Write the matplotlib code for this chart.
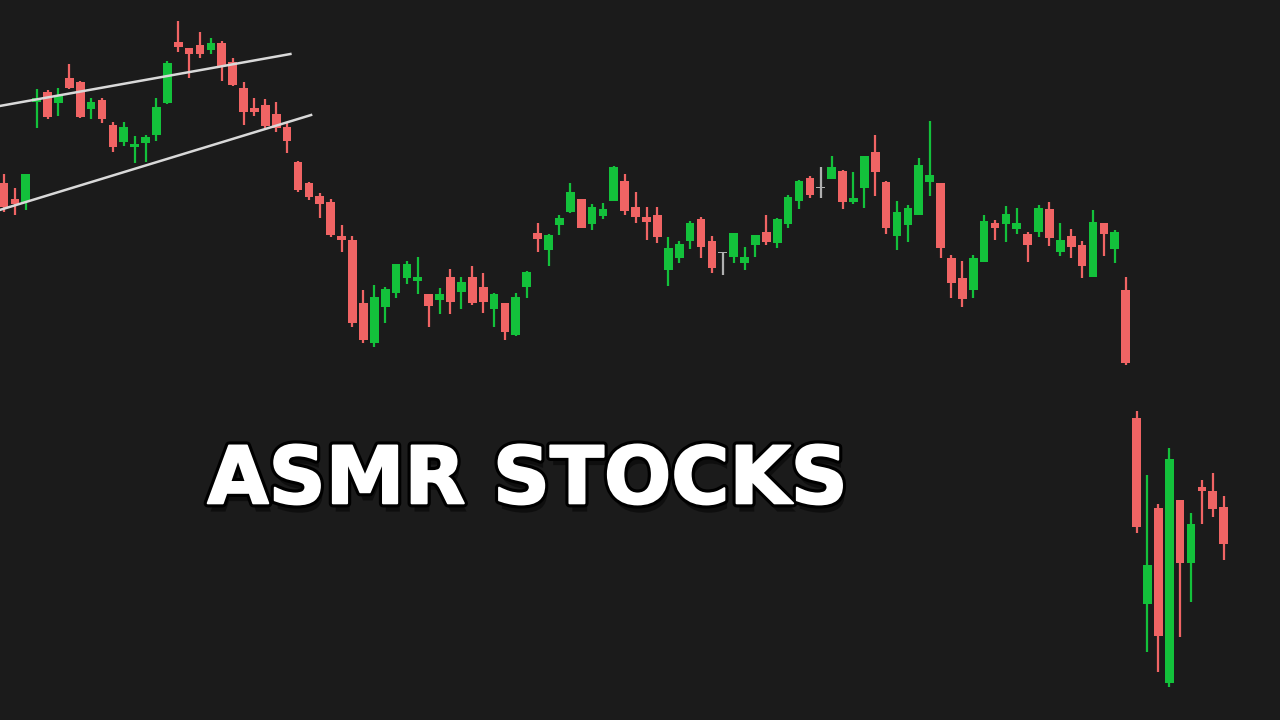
import numpy as np
import matplotlib
matplotlib.use("Agg")
import matplotlib.pyplot as plt
import matplotlib.patheffects as pe

# OHLC (arbitrary price units)
opens = [53.7, 52.1, 51.8, 61.8, 62.8, 61.7, 64.2, 63.8, 61.1, 62.0,
         59.5, 57.8, 57.3, 57.7, 58.5, 61.7, 67.8, 67.2, 67.5, 67.0,
         67.7, 65.8, 63.2, 61.2, 61.5, 60.6, 59.3, 55.8, 53.7, 52.4,
         51.8, 48.4, 48.0, 41.7, 37.7, 41.3, 42.7, 44.2, 43.9, 42.6,
         42.0, 44.3, 42.8, 44.3, 43.3, 41.1, 41.7, 38.5, 43.3, 48.7,
         47.0, 49.5, 50.8, 52.1, 49.6, 50.4, 51.9, 53.9, 51.3, 50.3,
         50.5, 45.0, 46.2, 47.9, 50.1, 47.9, 46.7, 46.3, 45.7, 47.5,
         48.8, 47.7, 49.6, 51.9, 54.2, 53.2, 54.1, 54.9, 51.8, 53.2,
         56.8, 53.8, 48.4, 49.5, 50.5, 53.8, 53.7, 46.2, 44.2, 43.0,
         45.8, 49.7, 49.6, 49.1, 48.6, 48.8, 51.1, 46.8, 48.4, 47.5,
         44.3, 49.7, 47.1, 43.0, 30.2, 11.6, 21.2, 3.7, 22.0, 15.7,
         23.3, 22.9, 21.3]
highs = [54.6, 53.2, 54.6, 63.1, 63.0, 63.2, 65.6, 63.9, 62.2, 62.2,
         59.8, 59.8, 58.4, 58.5, 62.2, 65.9, 69.9, 67.2, 68.8, 68.2,
         67.9, 66.2, 63.8, 62.2, 62.1, 61.8, 59.8, 55.9, 53.8, 52.7,
         52.1, 49.5, 48.4, 43.0, 43.5, 43.3, 45.6, 45.9, 46.3, 42.6,
         43.2, 45.1, 44.3, 45.4, 44.7, 42.7, 41.7, 42.7, 44.9, 49.7,
         48.6, 50.5, 53.7, 52.1, 51.6, 51.7, 55.4, 54.6, 52.8, 51.3,
         51.3, 48.3, 47.9, 49.9, 50.3, 48.4, 46.8, 48.7, 47.3, 48.5,
         50.5, 50.2, 52.5, 54.0, 54.4, 55.3, 56.4, 55.0, 54.8, 56.4,
         58.5, 53.9, 51.9, 51.5, 56.2, 59.9, 53.7, 46.5, 45.9, 46.5,
         50.5, 50.0, 51.4, 51.2, 48.8, 51.5, 51.8, 49.7, 49.1, 47.9,
         51.0, 49.7, 49.0, 44.3, 30.9, 24.5, 21.6, 27.2, 22.0, 20.7,
         24.0, 24.7, 22.4]
lows = [50.8, 50.5, 51.0, 59.2, 60.1, 60.4, 63.1, 60.2, 60.1, 59.7,
        56.8, 57.4, 55.7, 55.8, 57.9, 61.6, 66.8, 64.2, 66.2, 66.6,
        63.9, 63.4, 59.5, 60.4, 59.2, 58.8, 56.7, 52.8, 52.0, 50.2,
        48.3, 46.8, 39.3, 37.7, 37.3, 39.7, 42.2, 43.6, 42.6, 39.3,
        40.6, 40.6, 41.1, 41.5, 40.7, 39.3, 38.0, 38.4, 42.2, 46.8,
        45.4, 48.5, 50.7, 49.2, 49.0, 50.1, 51.9, 50.5, 49.7, 48.0,
        47.7, 43.4, 45.7, 47.1, 46.2, 44.7, 44.5, 45.7, 45.0, 46.3,
        47.5, 47.2, 49.2, 51.1, 52.2, 52.2, 54.1, 51.1, 51.6, 51.2,
        52.4, 48.6, 47.0, 47.8, 50.5, 52.4, 46.2, 42.2, 41.3, 42.2,
        45.8, 48.0, 47.8, 48.6, 45.8, 48.3, 47.4, 46.4, 46.2, 44.2,
        44.3, 46.4, 45.7, 35.5, 18.7, 6.8, 4.8, 3.3, 8.3, 11.8,
        19.6, 20.3, 16.0]
closes = [51.3, 51.6, 54.6, 62.2, 60.3, 62.5, 63.2, 60.3, 61.8, 60.1,
          57.3, 59.3, 57.6, 58.3, 61.3, 65.7, 67.3, 66.6, 66.6, 67.7,
          65.4, 63.5, 60.8, 60.8, 59.4, 59.2, 57.9, 53.0, 52.3, 51.6,
          48.5, 48.0, 39.7, 38.0, 42.3, 43.1, 45.6, 45.6, 44.3, 41.4,
          42.6, 41.8, 43.8, 41.7, 41.8, 42.6, 38.8, 42.3, 44.8, 48.1,
          48.5, 50.2, 52.8, 49.2, 51.3, 51.1, 55.3, 50.9, 50.3, 49.8,
          48.3, 47.2, 47.6, 49.7, 47.3, 45.2, 46.7, 48.7, 46.3, 48.5,
          47.8, 50.1, 52.3, 53.9, 52.5, 53.2, 55.3, 51.8, 52.2, 56.4,
          54.8, 49.2, 50.8, 51.2, 55.5, 54.5, 47.2, 43.7, 42.1, 46.2,
          49.9, 49.2, 50.6, 49.7, 47.5, 51.2, 48.2, 48.0, 47.3, 45.4,
          49.8, 48.6, 48.8, 35.7, 19.3, 15.5, 8.4, 26.1, 15.7, 19.6,
          22.9, 21.1, 17.6]

# two channel lines drawn on the left part
upper_line_x = [-0.4, 26.3]
upper_line_y = [61.4, 66.6]
lower_line_x = [-0.4, 28.2]
lower_line_y = [51.0, 60.5]

title = "ASMR STOCKS"

bg = "#1b1b1b"
up_col = "#13c13b"
down_col = "#f06464"
flat_col = "#b0b0b0"

o = np.array(opens)
h = np.array(highs)
l = np.array(lows)
c = np.array(closes)
x = np.arange(len(o))

colors = np.where(c > o, up_col, down_col).astype(object)
colors[np.abs(c - o) < 0.05] = flat_col

fig = plt.figure(figsize=(12.8, 7.2), dpi=100, facecolor=bg)
ax = fig.add_axes([0, 0, 1, 1])
ax.set_facecolor(bg)
ax.axis("off")

ax.vlines(x, l, h, colors=list(colors), linewidth=1.6, zorder=2)
body_lo = np.minimum(o, c)
body_h = np.maximum(np.abs(c - o), 0.15)
ax.bar(x, body_h, bottom=body_lo, width=0.8, color=list(colors), zorder=3)

ax.plot(upper_line_x, upper_line_y, color="#d9d9d9", linewidth=1.8, zorder=4)
ax.plot(lower_line_x, lower_line_y, color="#d9d9d9", linewidth=1.8, zorder=4)

ax.set_xlim(-0.367, 117.17)
ax.set_ylim(0, 72)

fig.text(0.412, 0.301, title, ha="center", va="baseline", color="white",
         fontsize=57, fontweight="bold", family=["DejaVu Sans"],
         path_effects=[pe.SimplePatchShadow(offset=(2, -6), shadow_rgbFace="black", alpha=0.45),
                       pe.Stroke(linewidth=6, foreground="black"),
                       pe.Stroke(linewidth=1.5, foreground="white"),
                       pe.Normal()])

fig.savefig("out.png", dpi=100, facecolor=bg)
